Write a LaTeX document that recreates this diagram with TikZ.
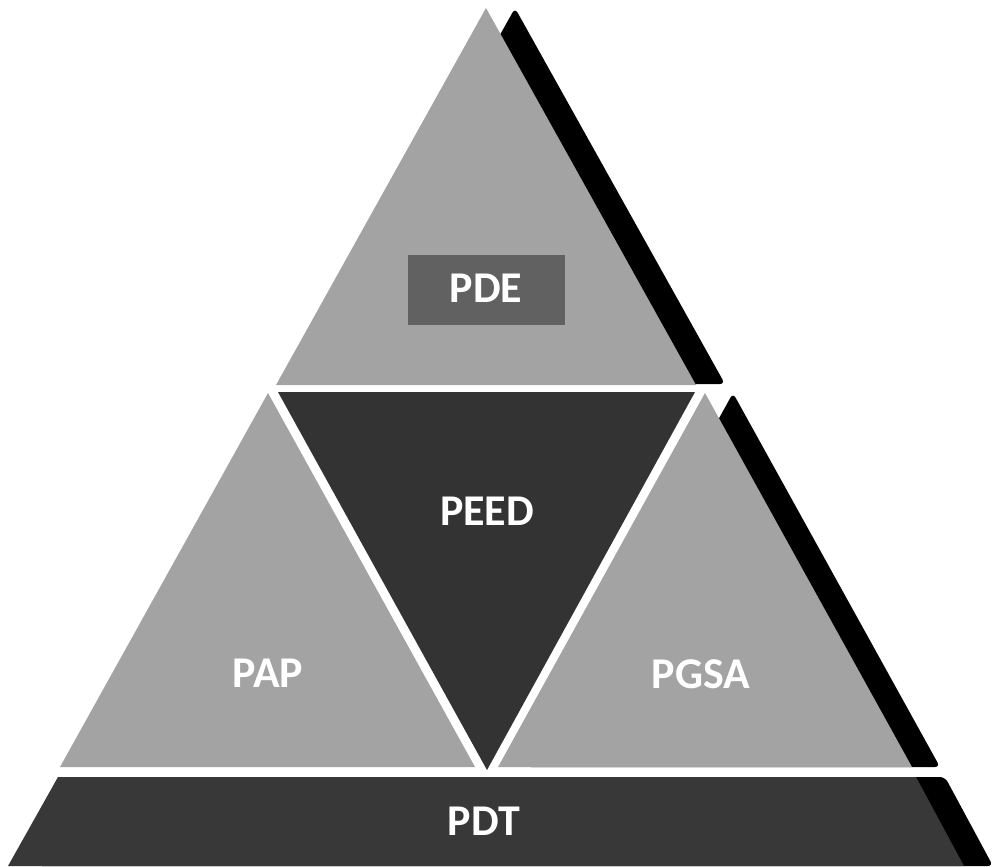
\documentclass[tikz,border=0pt]{standalone}
\usepackage{fontspec}
\setmainfont{Carlito}
\begin{document}
\begin{tikzpicture}[x=0.02cm,y=-0.02cm,
    shadow/.style={fill=black,rounded corners=3},
    light/.style={fill=black!36},
    dark/.style={fill=black!80},
    tag/.style={text=white,font=\fontsize{25}{30}\selectfont\bfseries}]
  \useasboundingbox (0,0) rectangle (993,866);
  % shadows behind the right edges
  \begin{scope}[xshift=0.58cm]
    \fill[shadow] (486,8) -- (696,384) -- (276,384) -- cycle;
    \fill[shadow] (704,393) -- (911,767) -- (497,767) -- cycle;
    \fill[shadow] (58,777) -- (916,777) -- (964,866) -- (8,866) -- cycle;
  \end{scope}
  % pyramid pieces
  \fill[light] (486,8) -- (696,385) -- (276,385) -- cycle;
  \fill[fill=black!62] (408,255) rectangle (565,325);
  \fill[dark] (278,392) -- (695,392) -- (487,770) -- cycle;
  \fill[light] (268,393) -- (475,767) -- (60,767) -- cycle;
  \fill[light] (705,393) -- (912,767) -- (498,767) -- cycle;
  \fill[fill=black!78] (58,777) -- (916,777) -- (964,866) -- (8,866) -- cycle;
  % labels
  \draw
    (486,288) node[tag] (pde){PDE}
    (487,511) node[tag] (peed){PEED}
    (268,673) node[tag] (pap){PAP}
    (701,674) node[tag] (pgsa){PGSA}
    (484,821) node[tag] (pdt){PDT};
\end{tikzpicture}
\end{document}
